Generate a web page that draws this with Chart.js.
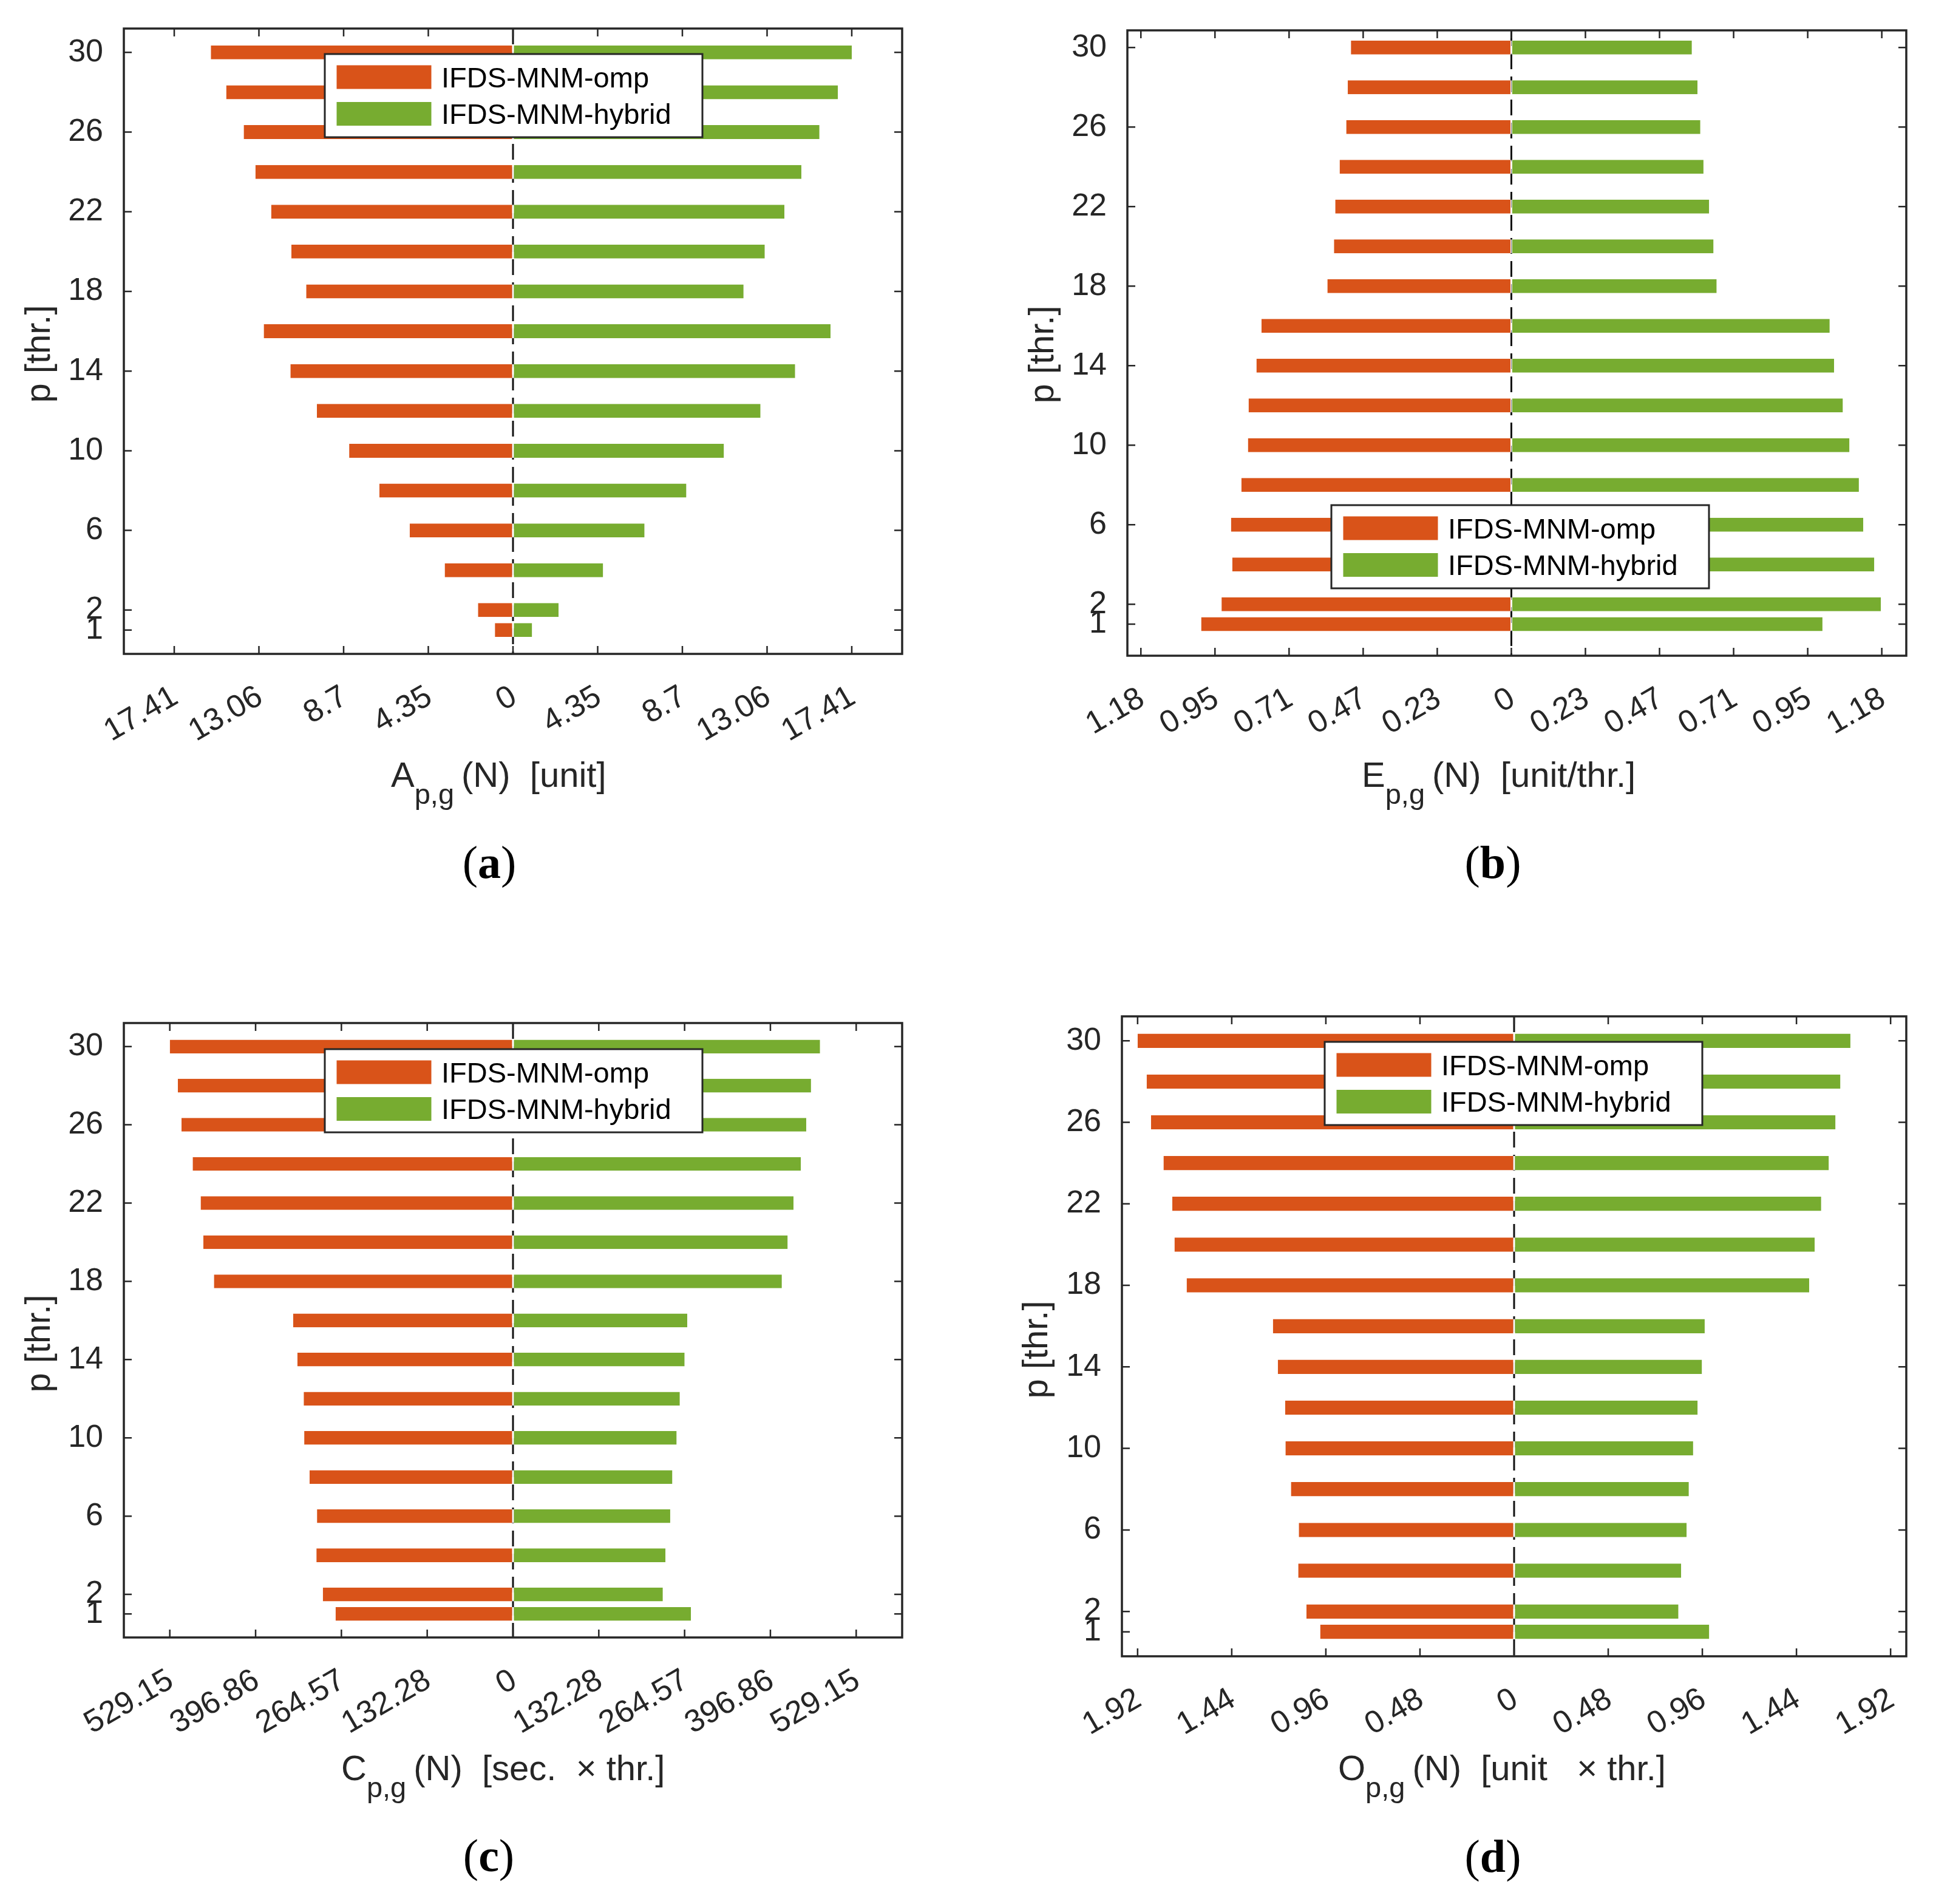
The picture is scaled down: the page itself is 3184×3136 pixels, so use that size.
<!DOCTYPE html>
<html>
<head>
<meta charset="utf-8">
<script src="https://cdn.jsdelivr.net/npm/chart.js@4.4.1/dist/chart.umd.min.js"></script>
<style>
html, body { margin: 0; padding: 0; background: #ffffff; }
#wrap { position: relative; width: 3184px; height: 3136px; background: #ffffff; }
#wrap canvas { position: absolute; }
</style>
</head>
<body>
<div id="wrap">
  <canvas id="panelA"></canvas>
  <canvas id="panelB"></canvas>
  <canvas id="panelC"></canvas>
  <canvas id="panelD"></canvas>
</div>
<script>
// ---------------- data ----------------
const threads = [1, 2, 4, 6, 8, 10, 12, 14, 16, 18, 20, 22, 24, 26, 28, 30];
const yTickValues = [1, 2, 6, 10, 14, 18, 22, 26, 30];
const seriesNames = ['IFDS-MNM-omp', 'IFDS-MNM-hybrid'];

const aOmp    = [0.93, 1.80, 3.51, 5.31, 6.87, 8.42, 10.08, 11.44, 12.81, 10.63, 11.39, 12.43, 13.24, 13.84, 14.74, 15.53];
const aHybrid = [0.98, 2.34, 4.63, 6.76, 8.91, 10.84, 12.72, 14.50, 16.32, 11.85, 12.94, 13.95, 14.82, 15.75, 16.70, 17.41];
const aTickLabels = ['17.41', '13.06', '8.7', '4.35', '0', '4.35', '8.7', '13.06', '17.41'];

const bOmp    = [0.988, 0.923, 0.889, 0.893, 0.860, 0.839, 0.837, 0.812, 0.796, 0.586, 0.565, 0.561, 0.547, 0.526, 0.521, 0.511];
const bHybrid = [0.991, 1.177, 1.156, 1.121, 1.107, 1.077, 1.056, 1.028, 1.014, 0.654, 0.644, 0.630, 0.612, 0.602, 0.593, 0.575];
const bTickLabels = ['1.18', '0.95', '0.71', '0.47', '0.23', '0', '0.23', '0.47', '0.71', '0.95', '1.18'];

const cOmp    = [273.6, 293.2, 303.1, 302.2, 313.7, 321.9, 322.7, 332.5, 339.1, 461.1, 477.5, 481.6, 493.9, 511.1, 516.8, 529.15];
const cHybrid = [274.4, 231.0, 235.1, 242.4, 245.7, 252.3, 257.2, 264.6, 268.7, 414.5, 423.5, 432.5, 443.9, 452.1, 459.5, 473.4];
const cTickLabels = ['529.15', '396.86', '264.57', '132.28', '0', '132.28', '264.57', '396.86', '529.15'];

const dOmp    = [0.989, 1.059, 1.101, 1.098, 1.138, 1.166, 1.168, 1.205, 1.230, 1.670, 1.732, 1.743, 1.788, 1.852, 1.874, 1.92];
const dHybrid = [0.995, 0.838, 0.852, 0.880, 0.891, 0.913, 0.936, 0.958, 0.972, 1.505, 1.533, 1.566, 1.605, 1.639, 1.664, 1.715];
const dTickLabels = ['1.92', '1.44', '0.96', '0.48', '0', '0.48', '0.96', '1.44', '1.92'];

const xTitles = [
  { main: 'A', sub: 'p,g', rest: '(N)  [unit]' },
  { main: 'E', sub: 'p,g', rest: '(N)  [unit/thr.]' },
  { main: 'C', sub: 'p,g', rest: '(N)  [sec.  \u00d7 thr.]' },
  { main: 'O', sub: 'p,g', rest: '(N)  [unit   \u00d7 thr.]' }
];
const yTitle = 'p [thr.]';
const captionLetters = ['a', 'b', 'c', 'd'];

// ---------------- styling / layout ----------------
const OMP_COLOR = '#D95319';
const HYB_COLOR = '#77AC30';
const AXIS_COLOR = '#262626';
const SANS = '"Liberation Sans", Arial, Helvetica, sans-serif';
const SERIF = '"Liberation Serif", "Times New Roman", serif';
const QW = 1592, QH = 1568;
const X_AXIS_H = 200;

const panels = [
  { id: 'panelA', qx: 0, qy: 0, omp: aOmp, hyb: aHybrid, tickLabels: aTickLabels,
    frame: { l: 204, t: 47, r: 1486, b: 1077 }, xMin: -20, xMax: 20, yMin: -0.2, yMax: 31.2,
    legend: { x: 535, y: 89 }, title: xTitles[0], titleX: 644, titleBase: 1296,
    yTitleX: 82, yTitleCY: 583, caption: captionLetters[0], capCX: 806, capBase: 1446 },
  { id: 'panelB', qx: 1592, qy: 0, omp: bOmp, hyb: bHybrid, tickLabels: bTickLabels,
    frame: { l: 1857, t: 50, r: 3140, b: 1080 }, xMin: -1.223, xMax: 1.258, yMin: -0.59, yMax: 30.86,
    legend: { x: 2193, y: 832 }, title: xTitles[1], titleX: 2243, titleBase: 1296,
    yTitleX: 1735, yTitleCY: 584, caption: captionLetters[1], capCX: 2459, capBase: 1446 },
  { id: 'panelC', qx: 0, qy: 1568, omp: cOmp, hyb: cHybrid, tickLabels: cTickLabels,
    frame: { l: 204, t: 1685, r: 1486, b: 2697 }, xMin: -600, xMax: 600, yMin: -0.2, yMax: 31.2,
    legend: { x: 535, y: 1728 }, title: xTitles[2], titleX: 562, titleBase: 2932,
    yTitleX: 82, yTitleCY: 2213, caption: captionLetters[2], capCX: 805, capBase: 3082 },
  { id: 'panelD', qx: 1592, qy: 1568, omp: dOmp, hyb: dHybrid, tickLabels: dTickLabels,
    frame: { l: 1848, t: 1674, r: 3140, b: 2728 }, xMin: -2, xMax: 2, yMin: -0.2, yMax: 31.2,
    legend: { x: 2182, y: 1716 }, title: xTitles[3], titleX: 2204, titleBase: 2932,
    yTitleX: 1725, yTitleCY: 2223, caption: captionLetters[3], capCX: 2459, capBase: 3083 }
];

function panelPlugin(cfg) {
  const ox = cfg.qx, oy = cfg.qy;
  return {
    id: 'panelDecor_' + cfg.id,
    beforeDatasetsDraw(chart) {
      const ctx = chart.ctx, a = chart.chartArea;
      const x0 = chart.scales.x.getPixelForValue(0);
      ctx.save();
      ctx.strokeStyle = '#111111';
      ctx.lineWidth = 3;
      ctx.setLineDash([26, 12]);
      ctx.beginPath();
      ctx.moveTo(x0, a.top);
      ctx.lineTo(x0, a.bottom);
      ctx.stroke();
      ctx.restore();
    },
    afterDraw(chart) {
      const ctx = chart.ctx, a = chart.chartArea;
      const xs = chart.scales.x, ys = chart.scales.y;
      ctx.save();
      // inward ticks
      ctx.strokeStyle = AXIS_COLOR;
      ctx.lineWidth = 2.5;
      ctx.setLineDash([]);
      const TL = 13;
      ctx.beginPath();
      xs.ticks.forEach(t => {
        const px = xs.getPixelForValue(t.value);
        ctx.moveTo(px, a.bottom); ctx.lineTo(px, a.bottom - TL);
        ctx.moveTo(px, a.top); ctx.lineTo(px, a.top + TL);
      });
      ys.ticks.forEach(t => {
        const py = ys.getPixelForValue(t.value);
        ctx.moveTo(a.left, py); ctx.lineTo(a.left + TL, py);
        ctx.moveTo(a.right, py); ctx.lineTo(a.right - TL, py);
      });
      ctx.stroke();
      // frame
      ctx.lineWidth = 3.5;
      ctx.strokeRect(a.left, a.top, a.right - a.left, a.bottom - a.top);

      // legend
      const lx = cfg.legend.x - ox, ly = cfg.legend.y - oy;
      const LW = 622, LH = 137;
      ctx.fillStyle = '#ffffff';
      ctx.fillRect(lx, ly, LW, LH);
      ctx.lineWidth = 3;
      ctx.strokeStyle = AXIS_COLOR;
      ctx.strokeRect(lx, ly, LW, LH);
      const rows = [
        { color: OMP_COLOR, label: chart.data.datasets[0].label, y: ly + 18.5 },
        { color: HYB_COLOR, label: chart.data.datasets[1].label, y: ly + 79 }
      ];
      ctx.font = '47px ' + SANS;
      ctx.textAlign = 'left';
      ctx.textBaseline = 'alphabetic';
      rows.forEach(r => {
        ctx.fillStyle = r.color;
        ctx.fillRect(lx + 19.5, r.y, 156, 39);
        ctx.fillStyle = '#000000';
        ctx.fillText(r.label, lx + 192, r.y + 19.5 + 16.8);
      });

      // x-axis title with subscript
      ctx.fillStyle = AXIS_COLOR;
      let tx = cfg.titleX - ox;
      const tb = cfg.titleBase - oy;
      ctx.font = '58px ' + SANS;
      ctx.fillText(cfg.title.main, tx, tb);
      tx += ctx.measureText(cfg.title.main).width;
      ctx.font = '47px ' + SANS;
      ctx.fillText(cfg.title.sub, tx, tb + 28);
      tx += ctx.measureText(cfg.title.sub).width + 12;
      ctx.font = '58px ' + SANS;
      ctx.fillText(cfg.title.rest, tx, tb);

      // y-axis title
      ctx.save();
      ctx.translate(cfg.yTitleX - ox, cfg.yTitleCY - oy);
      ctx.rotate(-Math.PI / 2);
      ctx.textAlign = 'center';
      ctx.font = '58px ' + SANS;
      ctx.fillText(yTitle, 0, 0);
      ctx.restore();

      // caption "(x)"
      ctx.fillStyle = '#000000';
      ctx.textAlign = 'left';
      const regular = '76px ' + SERIF, bold = 'bold 76px ' + SERIF;
      ctx.font = regular; const wl = ctx.measureText('(').width; const wr = ctx.measureText(')').width;
      ctx.font = bold; const wm = ctx.measureText(cfg.caption).width;
      let cx = cfg.capCX - ox - (wl + wm + wr) / 2;
      const cb = cfg.capBase - oy;
      ctx.font = regular; ctx.fillText('(', cx, cb); cx += wl;
      ctx.font = bold; ctx.fillText(cfg.caption, cx, cb); cx += wm;
      ctx.font = regular; ctx.fillText(')', cx, cb);
      ctx.restore();
    }
  };
}

function makePanel(cfg) {
  const canvas = document.getElementById(cfg.id);
  canvas.width = QW; canvas.height = QH;
  canvas.style.left = cfg.qx + 'px'; canvas.style.top = cfg.qy + 'px';
  canvas.style.width = QW + 'px'; canvas.style.height = QH + 'px';
  const F = cfg.frame;
  const left = F.l - cfg.qx, right = F.r - cfg.qx, top = F.t - cfg.qy, bottom = F.b - cfg.qy;
  const n = cfg.tickLabels.length, half = (n - 1) / 2;
  const tickMax = parseFloat(cfg.tickLabels[n - 1]);
  const xTickValues = cfg.tickLabels.map((s, i) => tickMax * (i - half) / half);
  const tickFont = { family: SANS, size: 52 };

  new Chart(canvas, {
    type: 'bar',
    data: {
      datasets: [
        { label: seriesNames[0], data: threads.map((p, i) => ({ x: -cfg.omp[i], y: p })),
          backgroundColor: OMP_COLOR, borderColor: '#ffffff',
          borderWidth: { top: 0, bottom: 0, left: 0, right: 1.5 }, borderSkipped: false,
          grouped: false, categoryPercentage: 0.8, barPercentage: 0.875 },
        { label: seriesNames[1], data: threads.map((p, i) => ({ x: cfg.hyb[i], y: p })),
          backgroundColor: HYB_COLOR, borderColor: '#ffffff',
          borderWidth: { top: 0, bottom: 0, left: 1.5, right: 0 }, borderSkipped: false,
          grouped: false, categoryPercentage: 0.8, barPercentage: 0.875 }
      ]
    },
    options: {
      indexAxis: 'y',
      responsive: false,
      animation: false,
      devicePixelRatio: 1,
      layout: { padding: { left: 0, top: top, right: QW - right, bottom: QH - bottom - X_AXIS_H } },
      plugins: { legend: { display: false }, tooltip: { enabled: false }, title: { display: false } },
      scales: {
        x: {
          type: 'linear', position: 'bottom', min: cfg.xMin, max: cfg.xMax,
          grid: { display: false, drawTicks: false }, border: { display: false },
          afterBuildTicks: s => { s.ticks = xTickValues.map(v => ({ value: v })); },
          afterFit: s => { s.height = X_AXIS_H; s.paddingLeft = 0; s.paddingRight = 0; },
          ticks: { autoSkip: false, minRotation: 30, maxRotation: 30, padding: 40, labelOffset: 2,
                   color: AXIS_COLOR, font: tickFont, callback: (v, i) => cfg.tickLabels[i] }
        },
        y: {
          type: 'linear', position: 'left', min: cfg.yMin, max: cfg.yMax, offset: false,
          grid: { display: false, drawTicks: false }, border: { display: false },
          afterBuildTicks: s => { s.ticks = yTickValues.map(v => ({ value: v })); },
          afterFit: s => { s.width = left; s.paddingTop = 0; s.paddingBottom = 0; },
          ticks: { autoSkip: false, padding: 34, color: AXIS_COLOR, font: tickFont,
                   callback: v => String(v) }
        }
      }
    },
    plugins: [panelPlugin(cfg)]
  });
}

panels.forEach(makePanel);
</script>
</body>
</html>
